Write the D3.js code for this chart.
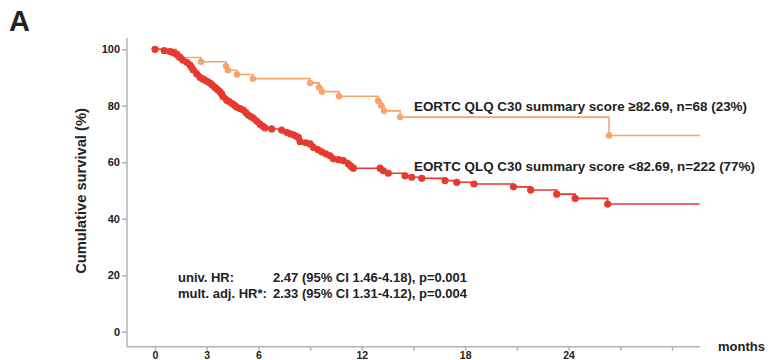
<!DOCTYPE html>
<html>
<head>
<meta charset="utf-8">
<script src="https://cdn.jsdelivr.net/npm/d3@7"></script>
<style>
  body { margin: 0; background: #fff; }
  text { font-family: 'Liberation Sans', Arial, sans-serif; font-weight: bold; fill: #222; }
</style>
</head>
<body>
<div id="chart"></div>
<script>
// x axis ticks (months) and which ones carry a label
var xTicks = [0, 3, 6, 9, 12, 15, 18, 21, 24, 27, 30];
var xTickLabels = ['0', '3', '6', '', '12', '', '18', '', '24', '', ''];
var yTicks = [0, 20, 40, 60, 80, 100];

// EORTC QLQ C30 summary score >=82.69 (n=68)
var highTimes = [0, 1.25, 1.35, 2.67, 4.12, 4.24, 4.76, 5.69, 9.0, 9.52, 9.69, 10.68, 12.94, 13.12, 13.29, 14.22, 26.35];
var highSurv  = [100, 98.5, 97.1, 95.6, 94.1, 92.6, 91.1, 89.6, 88.1, 86.5, 85.0, 83.4, 81.8, 80.1, 78.2, 76.0, 69.5];
var highEnd = 31.6;

// EORTC QLQ C30 summary score <82.69 (n=222)
var lowTimes = [0, 0.54, 0.87, 1.06, 1.26, 1.45, 1.61, 1.84, 2.03, 2.12, 2.22, 2.42, 2.61, 2.75, 2.90, 3.05, 3.19, 3.33,
  3.48, 3.62, 3.77, 3.88, 3.96, 4.16, 4.30, 4.45, 4.60, 4.74, 4.93, 5.12, 5.27, 5.41, 5.56, 5.71, 5.90, 6.09, 6.25, 6.38,
  6.77, 7.35, 7.64, 7.85, 8.03, 8.17, 8.32, 8.42, 8.75, 9.0, 9.19, 9.45, 9.67, 9.92, 10.16, 10.35, 10.65, 10.93, 11.22, 11.37, 11.51,
  13.06, 13.25, 13.54, 14.51, 14.9, 15.48, 16.83, 17.51, 18.51, 20.8, 21.8, 23.31, 24.38, 26.27];
var lowSurv = [100, 99.5, 99.2, 98.8, 98.2, 97.2, 96.2, 95.4, 94.4, 93.6, 92.7, 91.3, 90.1, 89.6, 89.1, 88.6, 88.0, 87.3,
  86.5, 85.8, 85.0, 84.1, 83.2, 82.0, 81.5, 80.9, 80.2, 79.5, 79.0, 78.5, 77.6, 76.7, 76.2, 75.6, 74.6, 73.5, 72.8, 72.2,
  71.8, 71.4, 70.6, 70.1, 69.7, 69.3, 68.8, 67.3, 66.9, 66.5, 65.3, 64.5, 63.7, 63.0, 62.3, 61.2, 60.9, 60.6, 59.4, 58.6, 57.9,
  57.9, 57.0, 56.1, 55.2, 54.7, 54.3, 53.5, 52.9, 52.3, 51.3, 50.2, 48.7, 47.2, 45.2];
var lowEnd = 31.6;

var highLabel = 'EORTC QLQ C30 summary score \u226582.69, n=68 (23%)';
var lowLabel = 'EORTC QLQ C30 summary score <82.69, n=222 (77%)';
var hrNames = ['univ. HR:', 'mult. adj. HR*:'];
var hrValues = ['2.47 (95% CI 1.46-4.18), p=0.001', '2.33 (95% CI 1.31-4.12), p=0.004'];

var width = 771, height = 360;
var axisColor = '#b4b4b4';
var highColor = '#f8a26c';
var lowColor = '#e6392f';

var svg = d3.select('#chart').append('svg')
    .attr('width', width)
    .attr('height', height);

var x = d3.scaleLinear().domain([0, 30]).range([155, 672]);
var y = d3.scaleLinear().domain([0, 100]).range([331.7, 49.3]);

// axes
var yAxis = svg.append('g').attr('transform', 'translate(127,0)')
    .call(d3.axisLeft(y).tickValues(yTicks).tickSize(5).tickPadding(2));
yAxis.select('.domain').attr('d', 'M0,38V346.7');
yAxis.selectAll('.tick text').attr('font-size', 11);

var xAxis = svg.append('g').attr('transform', 'translate(0,346.7)')
    .call(d3.axisBottom(x).tickValues(xTicks).tickSize(4).tickPadding(1)
      .tickFormat(function(d, i) { return xTickLabels[i]; }));
xAxis.select('.domain').attr('d', 'M127,0H700');
xAxis.selectAll('.tick text').attr('font-size', 10.5);

svg.selectAll('.domain, .tick line')
    .attr('stroke', axisColor)
    .attr('stroke-width', 1.5);
svg.selectAll('.tick text')
    .attr('font-family', null)
    .style('fill', '#222');

function appendCurve(times, surv, end, color, r) {
    var pts = times.map(function(t, i) { return [t, surv[i]]; });
    var linePts = pts.concat([[end, surv[surv.length - 1]]]);
    var line = d3.line()
        .x(function(d) { return x(d[0]); })
        .y(function(d) { return y(d[1]); })
        .curve(d3.curveStepAfter);
    var g = svg.append('g');
    g.append('path')
        .datum(linePts)
        .attr('fill', 'none')
        .attr('stroke', color)
        .attr('stroke-width', 1.6)
        .attr('d', line);
    g.selectAll('circle')
        .data(pts)
        .enter().append('circle')
        .attr('cx', function(d) { return x(d[0]); })
        .attr('cy', function(d) { return y(d[1]); })
        .attr('r', r)
        .attr('fill', color);
}

appendCurve(highTimes, highSurv, highEnd, highColor, 3.2);
appendCurve(lowTimes, lowSurv, lowEnd, lowColor, 3.6);

// texts
svg.append('text').attr('x', 9).attr('y', 31).attr('font-size', 29).text('A');

svg.append('text')
    .attr('transform', 'translate(86,191) rotate(-90)')
    .attr('text-anchor', 'middle')
    .attr('font-size', 14.7)
    .text('Cumulative survival (%)');

svg.append('text').attr('x', 718).attr('y', 350.5).attr('font-size', 13).text('months');

svg.append('text').attr('x', 414).attr('y', 111).attr('font-size', 13.4).text(highLabel);
svg.append('text').attr('x', 414).attr('y', 171).attr('font-size', 13.4).text(lowLabel);

hrNames.forEach(function(name, i) {
    svg.append('text').attr('x', 178).attr('y', 282 + i * 16).attr('font-size', 13).text(name);
    svg.append('text').attr('x', 273).attr('y', 282 + i * 16).attr('font-size', 13).text(hrValues[i]);
});
</script>
</body>
</html>
